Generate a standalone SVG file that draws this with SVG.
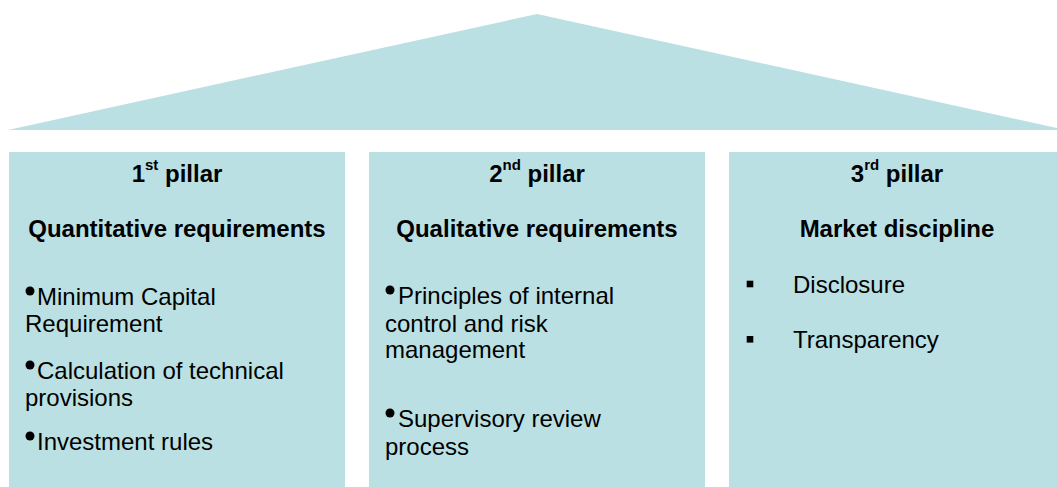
<svg xmlns="http://www.w3.org/2000/svg" width="1057" height="487" viewBox="0 0 1057 487">
<style>
.fill{fill:#BBE0E3;stroke:none}
.t{font-family:"Liberation Sans",Arial,sans-serif;fill:#000}
.h{font-size:24px;font-weight:bold;text-anchor:middle}
.b{font-size:24px}
.sup{font-size:15px}
.dot{fill:#000}
.sq{fill:#000}
</style>
<rect width="1057" height="487" fill="#ffffff"/>
<g id="roof">
<polygon class="fill" points="537,14 8,130 1066,130"/>
</g>
<g id="pillar1">
<rect class="fill" x="9" y="152" width="336" height="335"/>
<text class="t h" x="177" y="182">1<tspan class="sup" dy="-12">st</tspan><tspan dy="12"> pillar</tspan></text>
<text class="t h" x="177" y="237">Quantitative requirements</text>
<circle class="dot" cx="30" cy="291" r="4.5"/>
<text class="t b" x="37" y="305">Minimum Capital</text>
<text class="t b" x="25" y="332">Requirement</text>
<circle class="dot" cx="30" cy="365" r="4.5"/>
<text class="t b" x="37" y="379">Calculation of technical</text>
<text class="t b" x="25" y="406">provisions</text>
<circle class="dot" cx="30" cy="436" r="4.5"/>
<text class="t b" x="37" y="450">Investment rules</text>
</g>
<g id="pillar2">
<rect class="fill" x="369" y="152" width="336" height="335"/>
<text class="t h" x="537" y="182">2<tspan class="sup" dy="-12">nd</tspan><tspan dy="12"> pillar</tspan></text>
<text class="t h" x="537" y="237">Qualitative requirements</text>
<circle class="dot" cx="390" cy="290" r="4.5"/>
<text class="t b" x="398" y="304">Principles of internal</text>
<text class="t b" x="385" y="332">control and risk</text>
<text class="t b" x="385" y="358">management</text>
<circle class="dot" cx="390" cy="413" r="4.5"/>
<text class="t b" x="398" y="427">Supervisory review</text>
<text class="t b" x="385" y="455">process</text>
</g>
<g id="pillar3">
<rect class="fill" x="729" y="152" width="336" height="335"/>
<text class="t h" x="897" y="182">3<tspan class="sup" dy="-12">rd</tspan><tspan dy="12"> pillar</tspan></text>
<text class="t h" x="897" y="237">Market discipline</text>
<rect class="sq" x="746.7" y="280.7" width="6.6" height="6.6"/>
<text class="t b" x="793" y="293">Disclosure</text>
<rect class="sq" x="746.7" y="336" width="6.6" height="6.6"/>
<text class="t b" x="793" y="348">Transparency</text>
</g>
<g id="connectors"/>
</svg>
